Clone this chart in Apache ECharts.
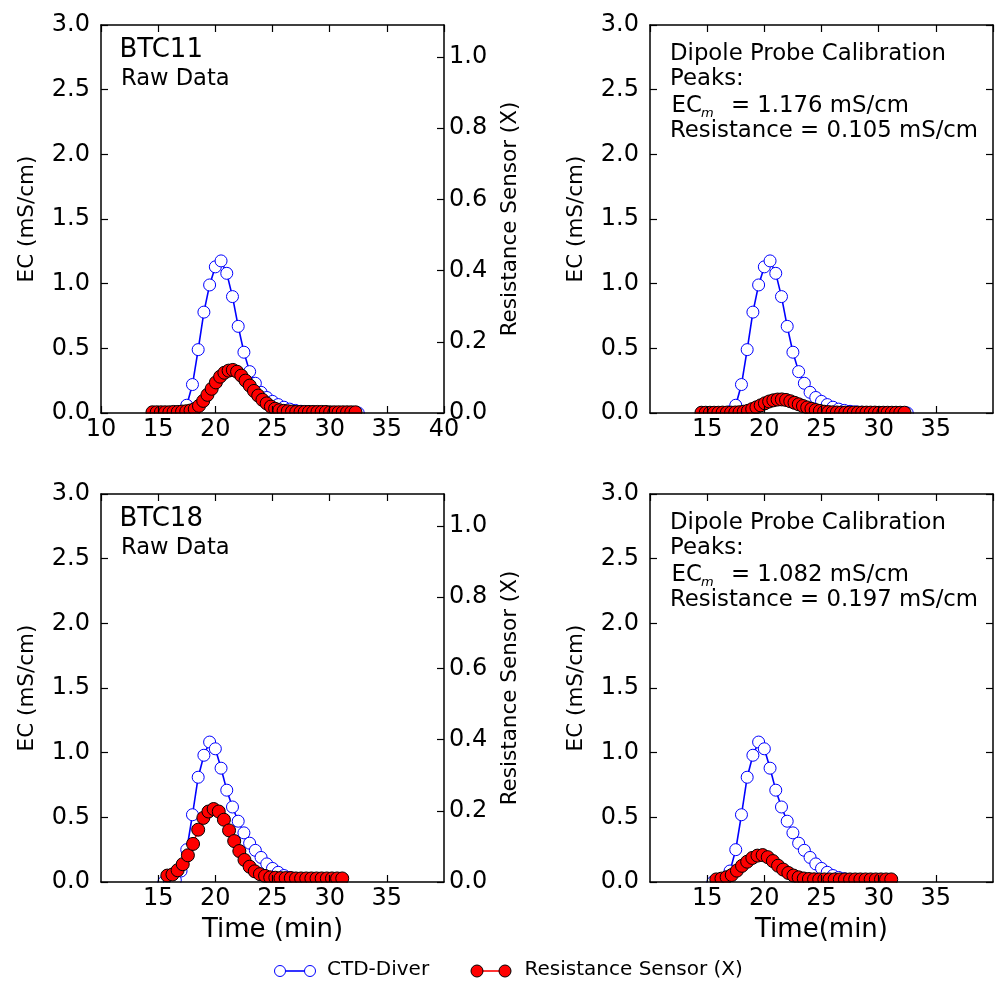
<!DOCTYPE html>
<html><head><meta charset="utf-8">
<script src="https://cdn.jsdelivr.net/npm/echarts@6/dist/echarts.min.js"></script>
<style>html,body{margin:0;padding:0;background:#fff}#c{width:997px;height:988px}</style>
</head><body><div id="c"></div>
<script>
// ---------- data ----------
const ctdTimeTop = [14.5,15,15.5,16,16.5,17,17.5,18,18.5,19,19.5,20,20.5,21,21.5,22,22.5,23,23.5,24,24.5,25,25.5,26,26.5,27,27.5,28,28.5,29,29.5,30,30.5,31,31.5,32,32.5];
const ctdTop = [0,0,0,0,0,0.01,0.06,0.22,0.49,0.78,0.99,1.13,1.176,1.08,0.90,0.67,0.47,0.32,0.23,0.16,0.12,0.09,0.065,0.045,0.03,0.02,0.013,0.009,0.006,0.004,0.003,0.002,0.002,0.001,0.001,0.001,0];
const resTimeTop = [14.5,14.87,15.24,15.61,15.98,16.35,16.72,17.09,17.46,17.83,18.2,18.57,18.94,19.31,19.68,20.05,20.42,20.79,21.16,21.53,21.9,22.27,22.64,23.01,23.38,23.75,24.12,24.49,24.86,25.23,25.6,25.97,26.34,26.71,27.08,27.45,27.82,28.19,28.56,28.93,29.3,29.67,30.04,30.41,30.78,31.15,31.52,31.89,32.26];
const resRawTop = [0.002,0.002,0.002,0.002,0.002,0.003,0.003,0.004,0.005,0.007,0.011,0.020,0.034,0.051,0.068,0.086,0.102,0.113,0.119,0.121,0.116,0.105,0.091,0.077,0.062,0.049,0.037,0.027,0.018,0.012,0.008,0.006,0.005,0.004,0.003,0.003,0.003,0.003,0.003,0.003,0.003,0.003,0.002,0.002,0.002,0.002,0.002,0.002,0.002];
const resCalTop = [0.002,0.002,0.002,0.002,0.002,0.003,0.003,0.003,0.004,0.006,0.010,0.017,0.030,0.044,0.059,0.075,0.089,0.098,0.104,0.105,0.101,0.091,0.079,0.067,0.054,0.043,0.032,0.023,0.016,0.010,0.007,0.005,0.004,0.003,0.003,0.003,0.003,0.003,0.003,0.003,0.003,0.003,0.002,0.002,0.002,0.002,0.002,0.002,0.002];

const ctdTimeBot = [15.5,16,16.5,17,17.5,18,18.5,19,19.5,20,20.5,21,21.5,22,22.5,23,23.5,24,24.5,25,25.5,26,26.5,27,27.5,28,28.5,29];
const ctdBot = [0,0,0.015,0.085,0.25,0.52,0.81,0.98,1.082,1.03,0.88,0.71,0.58,0.47,0.38,0.30,0.245,0.19,0.14,0.105,0.075,0.05,0.035,0.025,0.016,0.01,0.006,0.004];
const resTimeBot = [15.8,16.25,16.7,17.15,17.6,18.05,18.5,18.95,19.4,19.85,20.3,20.75,21.2,21.65,22.1,22.55,23,23.45,23.9,24.35,24.8,25.25,25.7,26.15,26.6,27.05,27.5,27.95,28.4,28.85,29.3,29.75,30.2,30.65,31.1];
const resRawBot = [0.018,0.021,0.033,0.05,0.075,0.107,0.147,0.18,0.198,0.205,0.198,0.175,0.145,0.115,0.087,0.062,0.043,0.03,0.022,0.017,0.013,0.012,0.011,0.011,0.011,0.01,0.01,0.01,0.01,0.01,0.01,0.01,0.01,0.01,0.01];
const resCalBot = [0.02,0.026,0.037,0.054,0.088,0.125,0.157,0.186,0.204,0.208,0.192,0.162,0.126,0.096,0.07,0.05,0.036,0.027,0.023,0.021,0.02,0.02,0.02,0.02,0.02,0.02,0.02,0.02,0.02,0.02,0.02,0.02,0.02,0.02,0.02];

const panelTitles = ['BTC11', '', 'BTC18', ''];
const peakEC = ['', '1.176', '', '1.082'];
const peakRes = ['', '0.105', '', '0.197'];
const xNames = ['', '', 'Time (min)', 'Time(min)'];
const legendNames = ['CTD-Diver', 'Resistance Sensor (X)'];

// ---------- layout ----------
const FONT = 'DejaVu Sans';
const W = 343, H = 388;
const panels = [
  {left:101, top:25,  raw:true,  allX:true,  ctdT:ctdTimeTop, ctd:ctdTop, resT:resTimeTop, res:resRawTop},
  {left:650, top:25,  raw:false, allX:false, ctdT:ctdTimeTop, ctd:ctdTop, resT:resTimeTop, res:resCalTop},
  {left:101, top:494, raw:true,  allX:false, ctdT:ctdTimeBot, ctd:ctdBot, resT:resTimeBot, res:resRawBot},
  {left:650, top:494, raw:false, allX:false, ctdT:ctdTimeBot, ctd:ctdBot, resT:resTimeBot, res:resCalBot}
];
const zip = (a, b) => a.map((x, k) => [x, b[k]]);
const BLUE = '#0000ff', RED = '#ff0000';

const grid = [], xAxis = [], yAxis = [], series = [], graphic = [];
const axLine = {show:true, onZero:false, lineStyle:{color:'#000', width:1.5}};
const axTick = {show:true, inside:true, length:7, lineStyle:{color:'#000', width:1.2}};
const lbl = (o) => Object.assign({color:'#000', fontSize:24, fontFamily:FONT}, o);
const nameStyle = (s) => ({color:'#000', fontSize:s, fontFamily:FONT});

panels.forEach((p, i) => {
  grid.push({left:p.left, top:p.top, width:W, height:H, containLabel:false, outerBoundsMode:'none'});
  xAxis.push({gridIndex:i, type:'value', position:'bottom', min:10, max:40, interval:5, z:5,
    axisLine:axLine, axisTick:axTick, splitLine:{show:false},
    axisLabel:lbl({margin:5, showMinLabel:p.allX, showMaxLabel:p.allX}),
    name:xNames[i], nameLocation:'middle', nameGap:35, nameMoveOverlap:false, nameTextStyle:nameStyle(26)});
  xAxis.push({gridIndex:i, type:'value', position:'top', min:10, max:40, interval:5, z:5,
    axisLine:axLine, axisTick:axTick, splitLine:{show:false}, axisLabel:{show:false}});
  yAxis.push({gridIndex:i, type:'value', position:'left', min:0, max:3, interval:0.5, z:5,
    axisLine:axLine, axisTick:axTick, splitLine:{show:false},
    axisLabel:lbl({margin:11, formatter:v => v.toFixed(1)}),
    name:'EC (mS/cm)', nameLocation:'middle', nameRotate:90, nameGap:63, nameMoveOverlap:false, nameTextStyle:nameStyle(21.5)});
  if (p.raw) {
    yAxis.push({gridIndex:i, type:'value', position:'right', min:0, max:1.09, interval:0.2, z:5,
      axisLine:axLine, axisTick:axTick, splitLine:{show:false},
      axisLabel:lbl({margin:5, showMaxLabel:false, formatter:v => v.toFixed(1)}),
      name:'Resistance Sensor (X)', nameLocation:'middle', nameRotate:90, nameGap:55, nameMoveOverlap:false, nameTextStyle:nameStyle(21.5)});
  } else {
    yAxis.push({gridIndex:i, type:'value', position:'right', min:0, max:3, interval:0.5, z:5,
      axisLine:axLine, axisTick:axTick, splitLine:{show:false}, axisLabel:{show:false}});
  }
  series.push({type:'line', name:legendNames[0], xAxisIndex:2*i, yAxisIndex:2*i, data:zip(p.ctdT, p.ctd),
    symbol:'circle', symbolSize:12, showSymbol:true, showAllSymbol:true, z:2,
    lineStyle:{color:BLUE, width:1.6}, itemStyle:{color:'#fff', borderColor:BLUE, borderWidth:1},
    emphasis:{disabled:true}, silent:true, animation:false});
  series.push({type:'line', name:legendNames[1], xAxisIndex:2*i, yAxisIndex:p.raw ? 2*i+1 : 2*i, data:zip(p.resT, p.res),
    symbol:'circle', symbolSize:13, showSymbol:true, showAllSymbol:true, z:2,
    lineStyle:{color:RED, width:1.6}, itemStyle:{color:RED, borderColor:'#000', borderWidth:1},
    emphasis:{disabled:true}, silent:true, animation:false});

  // clip markers below the bottom spine (as the original axes do)
  graphic.push({type:'rect', z:3, silent:true, shape:{x:p.left, y:p.top+H+0.8, width:W, height:7}, style:{fill:'#fff'}});

  const dy = p.top - 25;
  if (p.raw) {
    graphic.push({type:'text', z:6, x:119.5, y:50 + dy, style:{text:panelTitles[i], font:'26px "DejaVu Sans"', fill:'#000', verticalAlign:'middle'}});
    graphic.push({type:'text', z:6, x:121, y:79.6 + dy, style:{text:'Raw Data', font:'22.6px "DejaVu Sans"', fill:'#000', verticalAlign:'middle'}});
  } else {
    const f = '22.8px "DejaVu Sans"';
    graphic.push({type:'text', z:6, x:670, y:54 + dy, style:{text:'Dipole Probe Calibration', font:f, fill:'#000', verticalAlign:'middle'}});
    graphic.push({type:'text', z:6, x:670, y:79 + dy, style:{text:'Peaks:', font:f, fill:'#000', verticalAlign:'middle'}});
    graphic.push({type:'text', z:6, x:671.5, y:105.6 + dy, style:{text:'EC', font:f, fill:'#000', verticalAlign:'middle'}});
    graphic.push({type:'text', z:6, x:701, y:113.5 + dy, style:{text:'m', font:'italic 13px "DejaVu Sans"', fill:'#000', verticalAlign:'middle'}});
    graphic.push({type:'text', z:6, x:731, y:105.6 + dy, style:{text:'= ' + peakEC[i] + ' mS/cm', font:f, fill:'#000', verticalAlign:'middle'}});
    graphic.push({type:'text', z:6, x:670, y:130.6 + dy, style:{text:'Resistance = ' + peakRes[i] + ' mS/cm', font:f, fill:'#000', verticalAlign:'middle'}});
  }
});

// legend (matplotlib style: two markers joined by a line)
const LY = 971;
graphic.push({type:'line', z:6, shape:{x1:280, y1:LY, x2:310, y2:LY}, style:{stroke:BLUE, lineWidth:1.6}});
graphic.push({type:'circle', z:7, shape:{cx:280, cy:LY, r:5.5}, style:{fill:'#fff', stroke:BLUE, lineWidth:1}});
graphic.push({type:'circle', z:7, shape:{cx:310, cy:LY, r:5.5}, style:{fill:'#fff', stroke:BLUE, lineWidth:1}});
graphic.push({type:'text', z:6, x:327, y:969.5, style:{text:legendNames[0], font:'20px "DejaVu Sans"', fill:'#000', verticalAlign:'middle'}});
graphic.push({type:'line', z:6, shape:{x1:477, y1:LY, x2:505, y2:LY}, style:{stroke:RED, lineWidth:1.6}});
graphic.push({type:'circle', z:7, shape:{cx:477, cy:LY, r:6}, style:{fill:RED, stroke:'#000', lineWidth:1}});
graphic.push({type:'circle', z:7, shape:{cx:505, cy:LY, r:6}, style:{fill:RED, stroke:'#000', lineWidth:1}});
graphic.push({type:'text', z:6, x:524.5, y:969.5, style:{text:legendNames[1], font:'20px "DejaVu Sans"', fill:'#000', verticalAlign:'middle'}});

const chart = echarts.init(document.getElementById('c'), null, {renderer:'canvas'});
chart.setOption({animation:false, backgroundColor:'#fff', grid, xAxis, yAxis, series, graphic:{elements:graphic}});
</script></body></html>
